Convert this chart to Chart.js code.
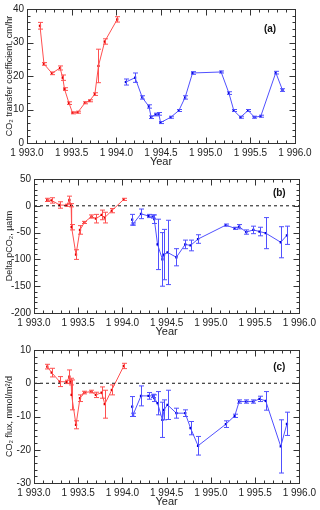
<!doctype html>
<html lang="en">
<head>
<meta charset="utf-8">
<title>CO2 transfer coefficient, Delta pCO2 and CO2 flux</title>
<script src="https://cdn.jsdelivr.net/npm/chart.js@4.4.1/dist/chart.umd.min.js"></script>
<style>
    html, body { margin: 0; padding: 0; background: #fff; }
    .panel { width: 320px; height: 170px; }
    canvas { display: block; }
</style>
</head>
<body>
<div class="panel"><canvas id="chartA" width="320" height="170"></canvas></div>
<div class="panel"><canvas id="chartB" width="320" height="170"></canvas></div>
<div class="panel"><canvas id="chartC" width="320" height="170"></canvas></div>
<script>
// (a) transfer coefficient, cm/hr
const yearsRedA = [1993.145, 1993.19, 1993.28, 1993.37, 1993.40, 1993.42, 1993.47, 1993.51, 1993.57, 1993.65, 1993.70, 1993.76, 1993.80, 1993.87, 1994.01]
const kRed = [35, 23.6, 20.8, 22.4, 19.5, 16.1, 11.9, 9.0, 9.2, 12.0, 12.6, 14.6, 23.0, 30.3, 36.9]
const kRedErr = [1.0, 0.4, 0.4, 0.6, 0.8, 0.4, 0.4, 0.3, 0.3, 0.3, 0.3, 0.4, 5.0, 0.8, 0.8]

const yearsBlueA = [1994.107, 1994.21, 1994.29, 1994.365, 1994.39, 1994.44, 1994.476, 1994.495, 1994.61, 1994.70, 1994.77, 1994.853, 1995.173, 1995.26, 1995.315, 1995.39, 1995.475, 1995.546, 1995.617, 1995.785, 1995.86]
const kBlue = [18.2, 19.5, 13.6, 10.9, 7.7, 8.5, 8.7, 6.1, 7.7, 9.7, 13.6, 20.9, 21.2, 14.9, 9.7, 7.7, 9.7, 7.7, 8.0, 21.0, 15.8]
const kBlueErr = [0.9, 1.4, 0.5, 0.5, 0.4, 0.4, 0.4, 0.3, 0.3, 0.3, 0.5, 0.4, 0.3, 0.4, 0.3, 0.3, 0.3, 0.3, 0.3, 0.4, 0.4]

// (b) and (c) share sampling dates
const yearsRed = [1993.15, 1993.20, 1993.29, 1993.37, 1993.40, 1993.42, 1993.425, 1993.475, 1993.52, 1993.57, 1993.65, 1993.70, 1993.765, 1993.80, 1993.88, 1994.015]
const yearsBlue = [1994.11, 1994.12, 1994.21, 1994.295, 1994.35, 1994.36, 1994.397, 1994.452, 1994.47, 1994.51, 1994.61, 1994.71, 1994.77, 1994.855, 1995.17, 1995.27, 1995.32, 1995.40, 1995.48, 1995.55, 1995.62, 1995.79, 1995.86]

// (b) delta pCO2, uatm
const dpRed = [11, 10, 1.5, 1, 11, 1, -40, -91, -45, -31, -20, -24, -17, -22, -9, 12]
const dpRedErr = [3, 5, 6, 2, 7, 3, 5, 9, 8, 2, 3, 8, 9, 10, 4, 2]
const dpBlue = [-26, -34, -15, -19, -20, -25, -72, -100, -91, -87, -96, -72, -74, -62, -36, -42, -39, -49, -45, -48, -51, -68, -55]
const dpBlueErr = [10, 2, 9, 3, 3, 8, 47, 50, 47, 60, 16, 8, 10, 8, 2, 2, 4, 4, 7, 8, 29, 29, 17]

// (c) CO2 flux, mmol/m2/d
const fluxRed = [5.0, 3.2, 0.5, 0.4, 2.0, 0.5, -3.5, -12.5, -4.5, -2.8, -2.5, -3.5, -2.8, -6.3, -2.0, 5.2]
const fluxRedErr = [0.7, 1.3, 1.5, 0.5, 2.0, 1.0, 4.5, 1.2, 1.0, 0.4, 0.4, 0.8, 1.7, 4.2, 1.5, 0.8]
const fluxBlue = [-7, -9.5, -3.8, -3.8, -3.8, -4.5, -6, -11, -8, -6.5, -9, -9, -13.5, -18.8, -12.3, -9.8, -5.5, -5.5, -5.5, -4.7, -5.3, -19, -12.2]
const fluxBlueErr = [3, 0.5, 3, 1, 0.5, 1, 3.5, 5.3, 3, 4.4, 1.5, 1, 2, 2.8, 1, 0.5, 0.5, 0.5, 0.5, 0.8, 2.8, 8, 3.5]

const RED = '#ff5050', RED_PT = '#e00000'
const BLUE = '#5050ff', BLUE_PT = '#0000d8'

Chart.defaults.font.family = '"Liberation Sans", Arial, sans-serif'
Chart.defaults.font.size = 10
Chart.defaults.color = '#222'

function pts(xs, ys) {
    return xs.map((x, i) => ({x: x, y: ys[i]}))
}

function series(xs, ys, errs, line, mark) {
    return {
        data: pts(xs, ys),
        errors: errs,
        borderColor: line,
        borderWidth: 1,
        pointStyle: 'rect',
        pointRadius: 1.6,
        pointBackgroundColor: mark,
        pointBorderWidth: 0,
        tension: 0
    }
}

// vertical error bars with small caps
const errorBars = {
    id: 'errorBars',
    afterDatasetsDraw(chart) {
        const {ctx, scales: {x, y}} = chart
        ctx.save()
        chart.data.datasets.forEach(ds => {
            if (!ds.errors) return
            ctx.strokeStyle = ds.borderColor
            ctx.lineWidth = 1
            ds.data.forEach((p, i) => {
                const e = ds.errors[i]
                const px = Math.round(x.getPixelForValue(p.x)) + 0.5
                const top = y.getPixelForValue(p.y + e)
                const bot = y.getPixelForValue(p.y - e)
                ctx.beginPath()
                ctx.moveTo(px, top)
                ctx.lineTo(px, bot)
                ctx.moveTo(px - 2.5, top)
                ctx.lineTo(px + 2.5, top)
                ctx.moveTo(px - 2.5, bot)
                ctx.lineTo(px + 2.5, bot)
                ctx.stroke()
            })
        })
        ctx.restore()
    }
}

// box frame with inward major/minor ticks on all sides, plus panel tag
const frame = {
    id: 'frame',
    afterDraw(chart, args, opts) {
        const {ctx, chartArea: a, scales: {x, y}} = chart
        ctx.save()
        ctx.strokeStyle = '#333'
        ctx.lineWidth = 1
        const L = Math.round(a.left) + 0.5, R = Math.round(a.right) + 0.5
        const T = Math.round(a.top) + 0.5, B = Math.round(a.bottom) + 0.5
        ctx.strokeRect(L, T, R - L, B - T)
        ctx.beginPath()
        const nx = Math.round((x.max - x.min) / opts.xMinor)
        for (let i = 0; i <= nx; i++) {
            const len = i % opts.xEvery === 0 ? 6 : 3
            const px = Math.round(x.getPixelForValue(x.min + i * opts.xMinor)) + 0.5
            ctx.moveTo(px, B); ctx.lineTo(px, B - len)
            ctx.moveTo(px, T); ctx.lineTo(px, T + len)
        }
        const ny = Math.round((y.max - y.min) / opts.yMinor)
        for (let i = 0; i <= ny; i++) {
            const len = i % opts.yEvery === 0 ? 6 : 3
            const py = Math.round(y.getPixelForValue(y.min + i * opts.yMinor)) + 0.5
            ctx.moveTo(L, py); ctx.lineTo(L + len, py)
            ctx.moveTo(R, py); ctx.lineTo(R - len, py)
        }
        ctx.stroke()
        ctx.fillStyle = '#111'
        ctx.font = 'bold 10px "Liberation Sans", Arial, sans-serif'
        ctx.textAlign = 'center'
        ctx.textBaseline = 'middle'
        ctx.fillText(opts.tag, a.right - opts.tagDx, a.top + opts.tagDy)
        ctx.restore()
    }
}

function makePanel(id, p) {
    const datasets = [
        series(p.redX, p.redY, p.redErr, RED, RED_PT),
        series(p.blueX, p.blueY, p.blueErr, BLUE, BLUE_PT)
    ]
    if (p.zeroLine) {
        datasets.unshift({
            data: [{x: 1993, y: 0}, {x: 1996, y: 0}],
            borderColor: '#111',
            borderWidth: 1,
            borderDash: [3, 3],
            pointRadius: 0
        })
    }
    return new Chart(document.getElementById(id), {
        type: 'line',
        data: {datasets: datasets},
        options: {
            responsive: false,
            animation: false,
            layout: {padding: {top: p.padTop, right: p.padRight, bottom: 0, left: 0}},
            plugins: {
                legend: {display: false},
                tooltip: {enabled: false},
                frame: {tag: p.tag, tagDx: p.tagDx, tagDy: p.tagDy, xMinor: 0.1, xEvery: 5, yMinor: p.yMinor, yEvery: p.yEvery}
            },
            scales: {
                x: {
                    type: 'linear', min: 1993, max: 1996,
                    grid: {display: false, drawTicks: false},
                    border: {display: false},
                    ticks: {
                        stepSize: 0.5, padding: 4, maxRotation: 0,
                        callback: v => { const s = v.toFixed(1); return s[0] + ' ' + s.slice(1) }
                    },
                    title: {display: true, text: 'Year', font: {size: 11}, padding: {top: 0, bottom: 1}},
                    afterFit: s => { s.height = 27 }
                },
                y: {
                    min: p.yMin, max: p.yMax,
                    grid: {display: false, drawTicks: false},
                    border: {display: false},
                    ticks: {stepSize: p.yStep, padding: 3},
                    title: {display: true, text: p.yTitle, font: {size: 9}, padding: {top: 4, bottom: 0}},
                    afterFit: s => { s.width = p.yWidth }
                }
            }
        },
        plugins: [errorBars, frame]
    })
}

makePanel('chartA', {
    tag: '(a)', tagDx: 25, tagDy: 20, yTitle: 'CO₂ transfer coefficient, cm/hr',
    yMin: 0, yMax: 40, yStep: 10, yMinor: 2, yEvery: 5,
    yWidth: 27, padTop: 7, padRight: 25,
    redX: yearsRedA, redY: kRed, redErr: kRedErr,
    blueX: yearsBlueA, blueY: kBlue, blueErr: kBlueErr
})

makePanel('chartB', {
    tag: '(b)', tagDx: 20, tagDy: 14, yTitle: 'Delta pCO₂, µatm', zeroLine: true,
    yMin: -200, yMax: 50, yStep: 50, yMinor: 10, yEvery: 5,
    yWidth: 34, padTop: 9, padRight: 18,
    redX: yearsRed, redY: dpRed, redErr: dpRedErr,
    blueX: yearsBlue, blueY: dpBlue, blueErr: dpBlueErr
})

makePanel('chartC', {
    tag: '(c)', tagDx: 20, tagDy: 17, yTitle: 'CO₂ flux, mmol/m²/d', zeroLine: true,
    yMin: -30, yMax: 10, yStep: 10, yMinor: 2, yEvery: 5,
    yWidth: 34, padTop: 10, padRight: 18,
    redX: yearsRed, redY: fluxRed, redErr: fluxRedErr,
    blueX: yearsBlue, blueY: fluxBlue, blueErr: fluxBlueErr
})
</script>
</body>
</html>
